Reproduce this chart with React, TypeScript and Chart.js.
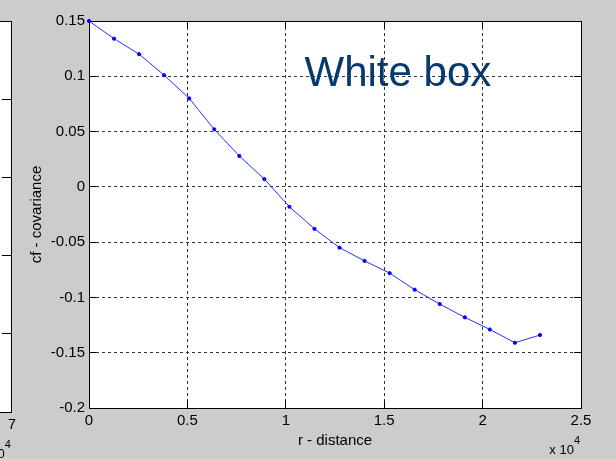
import React, { useEffect, useRef } from "react";
import { Chart, registerables } from "chart.js";

Chart.register(...registerables);

const FONT_FAMILY = '"Liberation Sans", Arial, Helvetica, sans-serif';
const FIGURE_GRAY = "#cccccc";

// Covariance estimate against lag distance
const rDistance = [
  0, 1273, 2546, 3819, 5092, 6365, 7638, 8911, 10184, 11457, 12730, 14003,
  15276, 16549, 17822, 19095, 20368, 21641, 22914,
];
const cfCovariance = [
  0.15, 0.134, 0.12, 0.101, 0.08, 0.052, 0.028, 0.007, -0.018, -0.038, -0.055,
  -0.067, -0.078, -0.093, -0.106, -0.118, -0.129, -0.141, -0.134,
];

const xTicks = [0, 5000, 10000, 15000, 20000, 25000];
const xTickLabels = ["0", "0.5", "1", "1.5", "2", "2.5"];
const yTicks = [-0.2, -0.15, -0.1, -0.05, 0, 0.05, 0.1, 0.15];
const yTickLabels = ["-0.2", "-0.15", "-0.1", "-0.05", "0", "0.05", "0.1", "0.15"];

const xTitle = "r - distance";
const yTitle = "cf - covariance";
const panelLabel = "White box";
const panelLabelAt = { r: 10950, cf: 0.091 };
const exponentBase = "x 10";
const exponentPower = "4";

// Neighbouring subplot on the left: only its right edge is in view
const sideXTicks = [0, 1, 2, 3, 4, 5, 6, 7];
const sideYTicks = [0, 1, 2, 3, 4, 5];

const fixedTicks = (values: number[]) => (scale: any) => {
  scale.ticks = values.map((value) => ({ value }));
};

const fillBackground = {
  id: "fillBackground",
  beforeDraw(chart: any, _args: any, opts: any) {
    const { ctx, chartArea: a, width, height } = chart;
    ctx.save();
    if (opts.figure) {
      ctx.fillStyle = opts.figure;
      ctx.fillRect(0, 0, width, height);
    }
    ctx.fillStyle = "#ffffff";
    ctx.fillRect(a.left, a.top, a.right - a.left, a.bottom - a.top);
    ctx.restore();
  },
};

// "x 10^4" multiplier under the right end of the x axis
const exponentLabel = {
  id: "exponentLabel",
  afterDraw(chart: any, _args: any, opts: any) {
    const { ctx, chartArea: a } = chart;
    const right = a.right - 1;
    ctx.save();
    ctx.fillStyle = "#000000";
    ctx.textAlign = "right";
    ctx.textBaseline = "alphabetic";
    ctx.font = `11px ${FONT_FAMILY}`;
    ctx.fillText(exponentPower, right, a.bottom + 35.5);
    const w = ctx.measureText(exponentPower).width;
    ctx.font = `13px ${FONT_FAMILY}`;
    ctx.fillText(exponentBase, right - w, a.bottom + 45.5);
    ctx.restore();
  },
};

const panelText = {
  id: "panelText",
  afterDraw(chart: any) {
    const { ctx, scales } = chart;
    const x = scales.x.getPixelForValue(panelLabelAt.r);
    const y = scales.y.getPixelForValue(panelLabelAt.cf);
    ctx.save();
    ctx.fillStyle = "#06396c";
    ctx.font = `42px ${FONT_FAMILY}`;
    ctx.textAlign = "left";
    ctx.textBaseline = "alphabetic";
    ctx.fillText(panelLabel, x, y);
    ctx.restore();
  },
};

const tickFont = { family: FONT_FAMILY, size: 15 };

export default function App() {
  const mainRef = useRef<HTMLCanvasElement>(null);
  const sideRef = useRef<HTMLCanvasElement>(null);

  useEffect(() => {
    document.body.style.margin = "0";
    document.body.style.background = FIGURE_GRAY;

    const main = new Chart(mainRef.current as HTMLCanvasElement, {
      type: "line",
      data: {
        datasets: [
          {
            data: rDistance.map((r, i) => ({ x: r, y: cfCovariance[i] })),
            borderColor: "#1f33ff",
            borderWidth: 1,
            pointStyle: "circle",
            pointRadius: 1.6,
            pointBorderWidth: 1,
            pointBackgroundColor: "#0000ff",
            pointBorderColor: "#0000ff",
            tension: 0,
            clip: false,
            xAxisID: "x",
            yAxisID: "y",
          } as any,
        ],
      },
      plugins: [fillBackground, panelText, exponentLabel],
      options: {
        responsive: false,
        animation: false,
        devicePixelRatio: 1,
        events: [],
        layout: { padding: { left: 0, top: 21, right: 35, bottom: 0 } },
        plugins: {
          legend: { display: false },
          tooltip: { enabled: false },
          fillBackground: { figure: FIGURE_GRAY },
        } as any,
        scales: {
          x: {
            type: "linear",
            position: "bottom",
            min: 0,
            max: 25000,
            afterBuildTicks: fixedTicks(xTicks),
            afterFit: (s: any) => {
              s.height = 51;
            },
            ticks: {
              autoSkip: false,
              maxRotation: 0,
              padding: 11,
              color: "#000000",
              font: tickFont,
              callback: (v: any) => xTickLabels[xTicks.indexOf(v)],
            },
            grid: {
              color: "#333333",
              lineWidth: 1,
              drawTicks: true,
              tickLength: -7,
              tickColor: "#000000",
              tickWidth: 1,
              tickBorderDash: [],
            },
            border: { display: true, color: "#000000", width: 1, dash: [3, 3] },
            title: {
              display: true,
              text: xTitle,
              color: "#000000",
              font: { family: FONT_FAMILY, size: 15 },
              padding: { top: 0, bottom: 9 },
            },
          },
          x2: {
            type: "linear",
            position: "top",
            min: 0,
            max: 25000,
            afterBuildTicks: fixedTicks(xTicks),
            afterFit: (s: any) => {
              s.height = 0;
            },
            ticks: { display: false },
            grid: {
              drawOnChartArea: false,
              drawTicks: true,
              tickLength: -7,
              tickColor: "#000000",
              tickWidth: 1,
            },
            border: { display: true, color: "#000000", width: 1 },
          },
          y: {
            type: "linear",
            position: "left",
            min: -0.2,
            max: 0.15,
            afterBuildTicks: fixedTicks(yTicks),
            afterFit: (s: any) => {
              s.width = 89;
            },
            ticks: {
              autoSkip: false,
              padding: 11,
              color: "#000000",
              font: tickFont,
              callback: (v: any) => yTickLabels[yTicks.indexOf(v)],
            },
            grid: {
              color: "#333333",
              lineWidth: 1,
              drawTicks: true,
              tickLength: -7,
              tickColor: "#000000",
              tickWidth: 1,
              tickBorderDash: [],
            },
            border: { display: true, color: "#000000", width: 1, dash: [3, 3] },
            title: {
              display: true,
              text: yTitle,
              color: "#000000",
              font: { family: FONT_FAMILY, size: 15 },
              padding: { top: 28, bottom: 0 },
            },
          },
          y2: {
            type: "linear",
            position: "right",
            min: -0.2,
            max: 0.15,
            afterBuildTicks: fixedTicks(yTicks),
            afterFit: (s: any) => {
              s.width = 0;
            },
            ticks: { display: false },
            grid: {
              drawOnChartArea: false,
              drawTicks: true,
              tickLength: -7,
              tickColor: "#000000",
              tickWidth: 1,
            },
            border: { display: true, color: "#000000", width: 1 },
          },
        } as any,
      },
    });

    const side = new Chart(sideRef.current as HTMLCanvasElement, {
      type: "line",
      data: { datasets: [] },
      plugins: [fillBackground, exponentLabel],
      options: {
        responsive: false,
        animation: false,
        devicePixelRatio: 1,
        events: [],
        layout: { padding: { left: 10, top: 21, right: 17, bottom: 0 } },
        plugins: {
          legend: { display: false },
          tooltip: { enabled: false },
          fillBackground: { figure: null },
        } as any,
        scales: {
          x: {
            type: "linear",
            position: "bottom",
            min: 0,
            max: 7,
            afterBuildTicks: fixedTicks(sideXTicks),
            afterFit: (s: any) => {
              s.height = 49;
            },
            ticks: {
              autoSkip: false,
              maxRotation: 0,
              padding: 14,
              color: "#000000",
              font: tickFont,
              callback: (v: any) => String(v),
            },
            grid: {
              drawOnChartArea: false,
              drawTicks: true,
              tickLength: -10,
              tickColor: "#000000",
            },
            border: { display: true, color: "#000000", width: 1 },
          },
          x2: {
            type: "linear",
            position: "top",
            min: 0,
            max: 7,
            afterBuildTicks: fixedTicks(sideXTicks),
            afterFit: (s: any) => {
              s.height = 0;
            },
            ticks: { display: false },
            grid: { drawOnChartArea: false, drawTicks: true, tickLength: -10, tickColor: "#000000" },
            border: { display: true, color: "#000000", width: 1 },
          },
          y: { type: "linear", min: 0, max: 5, display: false },
          y2: {
            type: "linear",
            position: "right",
            min: 0,
            max: 5,
            afterBuildTicks: fixedTicks(sideYTicks),
            afterFit: (s: any) => {
              s.width = 0;
            },
            ticks: { display: false },
            grid: { drawOnChartArea: false, drawTicks: true, tickLength: -10, tickColor: "#000000" },
            border: { display: true, color: "#000000", width: 1 },
          },
        } as any,
      },
    });

    return () => {
      main.destroy();
      side.destroy();
    };
  }, []);

  return (
    <div style={{ position: "relative", width: 616, height: 459, overflow: "hidden", background: FIGURE_GRAY }}>
      <canvas
        ref={mainRef}
        width={616}
        height={459}
        style={{ position: "absolute", left: 0, top: 0, width: 616, height: 459, display: "block" }}
      />
      <canvas
        ref={sideRef}
        width={430}
        height={461}
        style={{ position: "absolute", left: -400, top: 0, width: 430, height: 461, display: "block" }}
      />
    </div>
  );
}
